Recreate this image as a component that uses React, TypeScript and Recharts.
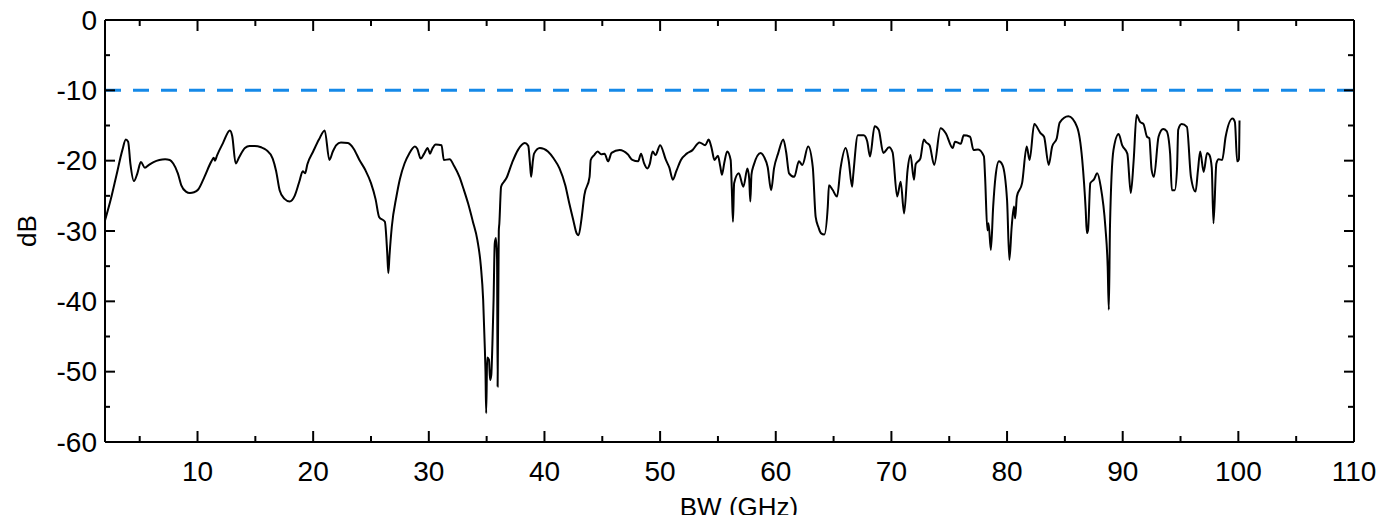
/**
 * BW sweep chart - dB vs bandwidth with -10 dB limit line
 */

import {
  LineChart,
  Line,
  XAxis,
  YAxis,
  ReferenceLine,
} from 'recharts'

// Bandwidth sample points (GHz)
const bw = [
  2.0, 2.5, 3.0, 3.5, 3.8, 4.0, 4.2, 4.5, 4.8, 5.1, 5.45, 5.8, 6.2, 6.7, 7.2, 7.6, 7.9, 8.3, 8.6, 9.0,
  9.34, 9.7, 10.06, 10.6, 11.2, 11.4, 11.5, 11.7, 12.2, 12.8, 13.0, 13.3, 13.6, 14.1, 14.5, 14.95, 15.5, 15.96, 16.5, 16.8,
  17.1, 17.5, 17.97, 18.4, 18.8, 19.1, 19.3, 19.5, 20.0, 20.5, 21.0, 21.4, 21.7, 22.0, 22.4, 23.0, 23.5, 24.0, 24.5, 25.0,
  25.4, 25.7, 26.2, 26.4, 26.5, 26.6, 26.8, 27.2, 27.5, 27.9, 28.3, 28.8, 29.0, 29.3, 29.6, 29.9, 30.1, 30.3, 30.6, 31.1,
  31.3, 31.8, 32.2, 32.65, 33.0, 33.4, 33.8, 34.2, 34.5, 34.7, 34.85, 34.9, 34.96, 35.05, 35.2, 35.3, 35.4, 35.5, 35.6, 35.7,
  35.8, 35.9, 35.95, 36.05, 36.1, 36.25, 36.5, 36.7, 37.2, 37.7, 38.3, 38.6, 38.75, 38.85, 39.0, 39.1, 39.6, 40.3, 40.8, 41.3,
  41.8, 42.15, 42.5, 42.8, 42.95, 43.2, 43.45, 43.9, 44.0, 44.3, 44.6, 44.9, 45.2, 45.5, 45.8, 46.5, 47.2, 47.6, 48.1, 48.35,
  48.6, 48.9, 49.1, 49.35, 49.6, 50.0, 50.5, 50.8, 51.1, 51.4, 51.8, 52.3, 52.8, 53.4, 53.9, 54.2, 54.45, 54.7, 55.0, 55.2,
  55.35, 55.55, 55.8, 56.1, 56.2, 56.3, 56.4, 56.8, 57.2, 57.55, 57.7, 57.8, 57.9, 58.1, 58.7, 59.0, 59.3, 59.6, 59.85, 60.2,
  60.65, 60.9, 61.15, 61.6, 62.0, 62.3, 62.8, 63.2, 63.45, 63.7, 63.9, 64.2, 64.5, 64.6, 64.9, 65.3, 65.6, 66.05, 66.3, 66.6,
  66.7, 67.1, 67.6, 67.9, 68.15, 68.55, 68.9, 69.3, 69.8, 70.1, 70.5, 70.8, 71.1, 71.4, 71.65, 71.95, 72.1, 72.5, 72.8, 73.0,
  73.3, 73.7, 74.25, 74.7, 75.3, 75.5, 76.0, 76.25, 76.8, 77.1, 77.5, 78.0, 78.1, 78.3, 78.4, 78.6, 78.8, 79.0, 79.3, 79.6,
  80.0, 80.2, 80.4, 80.6, 80.7, 80.85, 81.3, 81.7, 81.95, 82.35, 82.9, 83.2, 83.6, 83.9, 84.3, 84.55, 85.3, 86.05, 86.5, 86.8,
  86.9, 87.0, 87.2, 87.5, 87.8, 88.1, 88.5, 88.7, 88.8, 88.9, 89.2, 89.65, 89.95, 90.4, 90.7, 90.95, 91.2, 91.5, 91.8, 92.1,
  92.3, 92.5, 92.7, 93.1, 93.5, 93.8, 94.1, 94.25, 94.5, 94.7, 94.8, 95.1, 95.55, 95.9, 96.3, 96.5, 96.7, 97.0, 97.3, 97.5,
  97.7, 97.85, 98.1, 98.3, 98.6, 98.9, 99.5, 99.7, 99.9, 100.05, 100.1,
]

// Measured response (dB)
const db = [
  -28.5, -25.5, -22.0, -18.5, -17.0, -17.3, -20.5, -22.9, -21.8, -20.2, -21.0, -20.6, -20.2, -19.9, -19.8, -19.9, -20.4, -21.8, -23.5, -24.4,
  -24.6, -24.5, -24.1, -22.3, -20.1, -19.6, -20.0, -19.2, -17.5, -15.7, -16.5, -20.4, -19.5, -18.2, -17.9, -17.9, -18.1, -18.5, -19.7, -21.5,
  -24.2, -25.4, -25.8, -25.0, -23.0, -21.5, -21.8, -20.5, -18.7, -17.0, -15.7, -19.9, -18.7, -17.8, -17.4, -17.5, -18.3, -19.9, -21.3, -23.2,
  -25.5, -28.0, -28.7, -33.0, -36.0, -33.5, -29.4, -25.1, -22.6, -20.4, -19.0, -18.0, -18.3, -19.7, -19.0, -18.2, -19.0, -18.3, -17.7, -17.8,
  -19.9, -19.8, -20.8, -22.3, -24.0, -26.1, -28.6, -31.3, -35.0, -39.8, -47.0, -50.0, -55.9, -48.0, -48.3, -51.2, -50.5, -46.0, -39.8, -31.8,
  -31.0, -34.0, -52.1, -30.0, -28.9, -23.7, -23.0, -22.5, -20.3, -18.5, -17.5, -17.9, -20.5, -22.3, -20.0, -19.0, -18.2, -18.7, -19.7, -21.1,
  -23.5, -26.1, -28.5, -30.4, -30.6, -28.3, -24.9, -22.3, -19.9, -19.2, -18.7, -19.1, -19.0, -20.1, -18.9, -18.5, -19.1, -19.9, -20.1, -19.0,
  -20.3, -21.1, -20.5, -18.7, -19.2, -17.8, -19.9, -21.0, -22.7, -21.5, -19.9, -19.0, -18.5, -17.4, -17.8, -17.0, -18.2, -19.9, -19.3, -20.8,
  -22.0, -20.3, -18.7, -19.9, -24.0, -28.7, -23.2, -21.8, -23.7, -21.1, -22.5, -25.8, -22.0, -20.6, -18.9, -19.5, -20.9, -24.2, -21.1, -19.0,
  -17.0, -18.8, -21.8, -22.3, -20.1, -20.6, -18.0, -20.9, -28.0, -29.5, -30.3, -30.5, -26.5, -23.5, -24.1, -25.1, -21.1, -18.2, -19.9, -23.7,
  -22.0, -16.4, -16.4, -17.2, -19.4, -15.1, -15.6, -18.9, -18.1, -18.8, -25.1, -23.0, -27.5, -21.3, -19.2, -22.7, -20.5, -19.7, -17.0, -17.4,
  -17.8, -20.6, -15.4, -16.1, -18.2, -17.3, -17.6, -16.4, -16.6, -18.5, -18.4, -19.4, -22.3, -29.9, -28.9, -32.7, -26.5, -22.3, -20.1, -20.6,
  -25.6, -34.1, -29.4, -26.5, -28.2, -25.1, -23.2, -18.0, -19.9, -14.8, -16.1, -16.6, -20.6, -18.0, -16.8, -14.6, -13.7, -15.2, -19.9, -27.0,
  -30.3, -29.9, -23.2, -22.7, -21.8, -23.7, -29.4, -35.0, -41.2, -29.4, -18.5, -16.2, -17.8, -19.0, -24.6, -19.9, -13.5, -14.5, -14.8, -16.6,
  -16.8, -21.3, -22.3, -16.6, -15.5, -15.8, -19.0, -24.2, -24.2, -21.0, -15.6, -14.8, -15.2, -22.3, -24.4, -21.5, -18.7, -21.6, -18.9, -19.2,
  -21.0, -28.9, -20.4, -19.8, -19.9, -16.6, -14.0, -14.5, -20.1, -19.8, -14.3,
]

// Tick positions (major every 10, minor every 5)
const xTicks = [5, 10, 15, 20, 25, 30, 35, 40, 45, 50, 55, 60, 65, 70, 75, 80, 85, 90, 95, 100, 105, 110]
const yTicks = [0, -5, -10, -15, -20, -25, -30, -35, -40, -45, -50, -55, -60]

const limitDb = -10

const data = bw.map((x, i) => ({ bw: x, db: db[i] }))

const FONT = '"Liberation Sans", Arial, sans-serif'

// Bottom axis: inward ticks + labels on majors
function BottomTick({ x, y, payload }: any) {
  const v = payload.value
  const major = v % 10 === 0
  return (
    <g>
      <line x1={x} x2={x} y1={y} y2={y - (major ? 11 : 6)} stroke="#000" strokeWidth={2} />
      {major && (
        <text x={x} y={y + 29} textAnchor="middle" dominantBaseline="central" fontSize={28} fill="#000">
          {v}
        </text>
      )}
    </g>
  )
}

function TopTick({ x, y, payload }: any) {
  const major = payload.value % 10 === 0
  return <line x1={x} x2={x} y1={y} y2={y + (major ? 11 : 6)} stroke="#000" strokeWidth={2} />
}

function LeftTick({ x, y, payload }: any) {
  const v = payload.value
  const major = v % 10 === 0
  return (
    <g>
      <line x1={x} x2={x + (major ? 10 : 5)} y1={y} y2={y} stroke="#000" strokeWidth={2} />
      {major && (
        <text x={x - 8} y={y} textAnchor="end" dominantBaseline="central" fontSize={28} fill="#000">
          {v}
        </text>
      )}
    </g>
  )
}

function RightTick({ x, y, payload }: any) {
  const major = payload.value % 10 === 0
  return <line x1={x} x2={x - (major ? 10 : 6)} y1={y} y2={y} stroke="#000" strokeWidth={2} />
}

function YLabel() {
  const cx = 19
  const cy = 223
  return (
    <text
      x={cx}
      y={cy}
      transform={`rotate(-90 ${cx} ${cy})`}
      textAnchor="middle"
      dominantBaseline="central"
      fontSize={26}
      fill="#000"
    >
      dB
    </text>
  )
}

function XLabel() {
  return (
    <text x={731} y={499} textAnchor="middle" dominantBaseline="central" fontSize={26} fill="#000">
      BW (GHz)
    </text>
  )
}

export default function App() {
  return (
    <div style={{ width: 1382, height: 507, fontFamily: FONT }}>
      <style>{`svg.recharts-surface { overflow: visible; }`}</style>
      <LineChart
        width={1382}
        height={507}
        data={data}
        margin={{ top: 11, right: 35, bottom: 0, left: 0 }}
      >
        <XAxis
          dataKey="bw"
          type="number"
          domain={[2, 110]}
          allowDataOverflow
          ticks={xTicks}
          interval={0}
          height={73}
          tickSize={0}
          tickMargin={0}
          tick={BottomTick}
          axisLine={{ stroke: '#000', strokeWidth: 2 }}
          label={<XLabel />}
        />
        <XAxis
          xAxisId="top"
          orientation="top"
          dataKey="bw"
          type="number"
          domain={[2, 110]}
          allowDataOverflow
          ticks={xTicks}
          interval={0}
          height={1}
          tickSize={0}
          tickMargin={0}
          tick={TopTick}
          axisLine={{ stroke: '#000', strokeWidth: 2 }}
        />
        <YAxis
          type="number"
          domain={[-60, 0]}
          allowDataOverflow
          ticks={yTicks}
          interval={0}
          width={97}
          tickSize={0}
          tickMargin={0}
          tick={LeftTick}
          axisLine={{ stroke: '#000', strokeWidth: 2 }}
          label={<YLabel />}
        />
        <YAxis
          yAxisId="right"
          orientation="right"
          type="number"
          domain={[-60, 0]}
          allowDataOverflow
          ticks={yTicks}
          interval={0}
          width={1}
          tickSize={0}
          tickMargin={0}
          tick={RightTick}
          axisLine={{ stroke: '#000', strokeWidth: 2 }}
        />
        <ReferenceLine y={limitDb} stroke="#1589e8" strokeWidth={3} strokeDasharray="16 12" />
        {/* invisible series so the top/right frame axes get drawn */}
        <Line
          xAxisId="top"
          yAxisId="right"
          dataKey="db"
          stroke="none"
          dot={false}
          activeDot={false}
          isAnimationActive={false}
        />
        <Line
          type="monotone"
          dataKey="db"
          stroke="#000"
          strokeWidth={2}
          dot={false}
          activeDot={false}
          isAnimationActive={false}
        />
      </LineChart>
    </div>
  )
}
